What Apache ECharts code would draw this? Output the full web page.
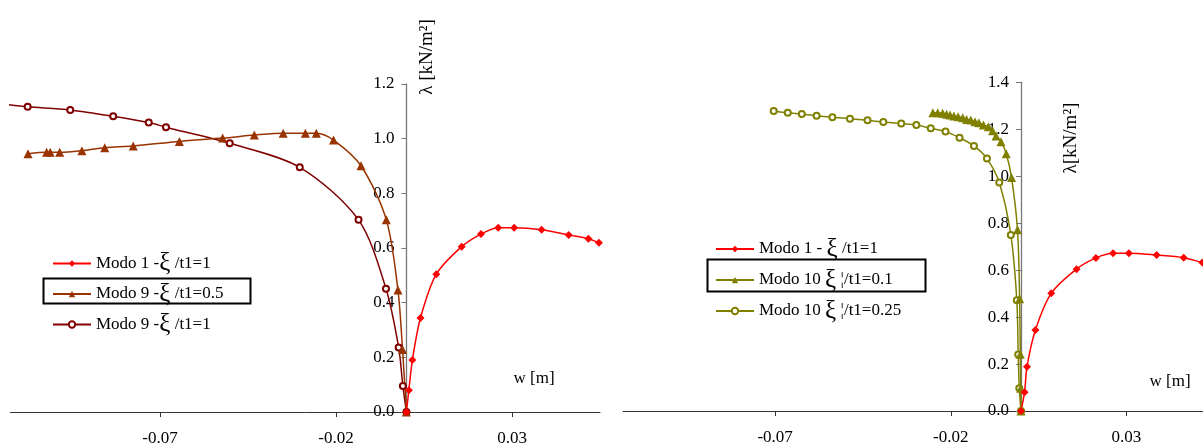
<!DOCTYPE html>
<html>
<head>
<meta charset="utf-8">
<script src="https://cdn.jsdelivr.net/npm/echarts@6/dist/echarts.min.js"></script>
<style>
html,body{margin:0;padding:0;background:#fff;}
#c{width:1203px;height:443px;}
</style>
</head>
<body>
<div id="c"></div>
<script>
// ---- tick labels ----
const xTickValues = [-0.07, -0.02, 0.03];

// ---- series names ----
const leftNames = ['Modo 1 -ξ /t1=1', 'Modo 9 -ξ /t1=0.5', 'Modo 9 -ξ /t1=1'];
const rightNames = ['Modo 1 - ξ /t1=1', 'Modo 10 ξ ¦/t1=0.1', 'Modo 10 ξ ¦/t1=0.25'];

// ---- left chart data [w, lambda] ----
const modo1Left = [[0,0],[0.0007,0.08],[0.0017,0.19],[0.0040,0.344],[0.0085,0.504],[0.0157,0.605],[0.0212,0.651],[0.0261,0.674],[0.0306,0.674],[0.0384,0.667],[0.0461,0.648],[0.0517,0.634],[0.0547,0.619]];
const modo9t05 = [[-0.1075,0.945],[-0.1022,0.950],[-0.1012,0.950],[-0.0985,0.950],[-0.0922,0.956],[-0.0857,0.967],[-0.0776,0.973],[-0.0645,0.990],[-0.0522,1.002],[-0.0432,1.013],[-0.0350,1.020],[-0.0287,1.020],[-0.0256,1.020],[-0.0207,0.995],[-0.0129,0.901],[-0.0057,0.703],[-0.0024,0.446],[-0.0011,0.229],[0,0]];
const modo9t1 = [[-0.1135,1.125],[-0.1076,1.117],[-0.0955,1.105],[-0.0833,1.082],[-0.0732,1.059],[-0.0683,1.042],[-0.0502,0.983],[-0.0303,0.895],[-0.0136,0.703],[-0.0058,0.451],[-0.0022,0.236],[-0.0010,0.095],[0,0]];

// ---- right chart data [w, lambda] ----
const modo1Right = [[0,0],[0.0010,0.08],[0.0017,0.189],[0.0041,0.345],[0.0086,0.501],[0.0158,0.604],[0.0213,0.652],[0.0262,0.672],[0.0307,0.672],[0.0386,0.664],[0.0463,0.653],[0.0516,0.632]];
const modo10t01 = [[-0.0251,1.270],[-0.0237,1.270],[-0.0223,1.268],[-0.0212,1.264],[-0.0202,1.261],[-0.0191,1.256],[-0.0179,1.253],[-0.0166,1.249],[-0.0155,1.242],[-0.0143,1.239],[-0.0131,1.232],[-0.0120,1.228],[-0.0107,1.218],[-0.0093,1.211],[-0.0081,1.194],[-0.0071,1.171],[-0.0057,1.147],[-0.0042,1.096],[-0.0027,0.994],[-0.0010,0.772],[-0.0004,0.478],[-0.0002,0.242],[-0.0001,0.097],[0,0]];
const modo10t025 = [[-0.0704,1.278],[-0.0664,1.270],[-0.0624,1.265],[-0.0582,1.258],[-0.0537,1.251],[-0.0487,1.245],[-0.0437,1.238],[-0.0392,1.231],[-0.0341,1.224],[-0.0298,1.218],[-0.0257,1.204],[-0.0215,1.190],[-0.0175,1.164],[-0.0134,1.129],[-0.0097,1.075],[-0.0062,0.973],[-0.0029,0.750],[-0.0012,0.472],[-0.0008,0.241],[-0.0005,0.097],[0,0]];

const FONT = 'Liberation Serif';
const L = {left: 10.4, width: 589.6, min: -0.1125, max: 0.0550};
const R = {left: 623, width: 580, min: -0.1133, max: 0.0518};

function xAxis(gridIndex, g) {
  return {
    type: 'value', gridIndex: gridIndex, min: g.min, max: g.max,
    splitLine: {show: false},
    axisLine: {onZero: false, lineStyle: {color: '#333', width: 1}},
    axisTick: {show: true, customValues: xTickValues, length: 5, lineStyle: {color: '#333'}},
    axisLabel: {customValues: xTickValues, margin: 18, color: '#000', fontFamily: FONT, fontSize: 17,
      formatter: v => v.toFixed(2)}
  };
}
function yAxis(gridIndex, max, g) {
  // shift the axis from the grid's left edge to w = 0
  const shift = -g.min / (g.max - g.min) * g.width;
  return {
    type: 'value', gridIndex: gridIndex, min: 0, max: max, interval: 0.2,
    position: 'left', offset: -shift,
    splitLine: {show: false},
    axisLine: {show: true, onZero: false, lineStyle: {color: '#777', width: 1.3}},
    axisTick: {show: true, length: 5, lineStyle: {color: '#777'}},
    axisLabel: {margin: 12, color: '#000', fontFamily: FONT, fontSize: 17, formatter: v => v.toFixed(1)}
  };
}
function line(name, data, idx, color, symbol, size) {
  return {
    name: name, type: 'line', data: data, xAxisIndex: idx, yAxisIndex: idx,
    smooth: 0.3, clip: true, symbol: symbol, symbolSize: size, showSymbol: true,
    lineStyle: {color: color, width: 1.5},
    itemStyle: {color: color, borderColor: color, borderWidth: symbol === 'emptyCircle' ? 1.3 : 0},
    emphasis: {disabled: true}, animation: false, z: 3
  };
}
function legend(names, left, top, gap) {
  return {
    data: names, orient: 'vertical', left: left, top: top, itemGap: gap,
    itemWidth: 38, itemHeight: 8, padding: 0,
    formatter: n => n.replace('ξ', '{x|ξ}'),
    textStyle: {color: '#000', fontFamily: FONT, fontSize: 17, lineHeight: 20,
      rich: {x: {fontFamily: FONT, fontSize: 25, lineHeight: 20, color: '#000'}}}
  };
}

const chart = echarts.init(document.getElementById('c'), null, {renderer: 'canvas'});
chart.setOption({
  backgroundColor: '#fff',
  animation: false,
  grid: [
    {left: L.left, top: 84, width: L.width, height: 328, containLabel: false, outerBoundsMode: 'none'},
    {left: R.left, top: 82.3, width: R.width, height: 328.7, containLabel: false, outerBoundsMode: 'none'}
  ],
  xAxis: [xAxis(0, L), xAxis(1, R)],
  yAxis: [yAxis(0, 1.2, L), yAxis(1, 1.4, R)],
  legend: [legend(leftNames, 52, 251, 5.5), legend(rightNames, 715, 236.5, 6)],
  series: [
    line(leftNames[2], modo9t1, 0, '#800000', 'emptyCircle', 6),
    line(leftNames[1], modo9t05, 0, '#993300', 'triangle', 9),
    line(leftNames[0], modo1Left, 0, '#FF0000', 'diamond', 8),
    line(rightNames[2], modo10t025, 1, '#808000', 'emptyCircle', 6),
    line(rightNames[1], modo10t01, 1, '#808000', 'triangle', 9),
    line(rightNames[0], modo1Right, 1, '#FF0000', 'diamond', 8)
  ],
  graphic: [
    {type: 'rect', shape: {x: 43.5, y: 278.5, width: 207, height: 25}, style: {fill: 'none', stroke: '#000', lineWidth: 2}, z: 100},
    {type: 'rect', shape: {x: 707.5, y: 259.5, width: 218, height: 32}, style: {fill: 'none', stroke: '#000', lineWidth: 2}, z: 100},
    {type: 'text', x: 427, y: 57, rotation: Math.PI / 2,
      style: {text: 'λ [kN/m²]', font: '19px "Liberation Serif"', fill: '#000', textAlign: 'center', textVerticalAlign: 'middle'}},
    {type: 'text', x: 1071, y: 138, rotation: Math.PI / 2,
      style: {text: 'λ[kN/m²]', font: '19px "Liberation Serif"', fill: '#000', textAlign: 'center', textVerticalAlign: 'middle'}},
    {type: 'text', x: 534, y: 379,
      style: {text: 'w [m]', font: '17px "Liberation Serif"', fill: '#000', textAlign: 'center', textVerticalAlign: 'middle'}},
    {type: 'text', x: 1170, y: 382,
      style: {text: 'w [m]', font: '17px "Liberation Serif"', fill: '#000', textAlign: 'center', textVerticalAlign: 'middle'}}
  ]
});
</script>
</body>
</html>
